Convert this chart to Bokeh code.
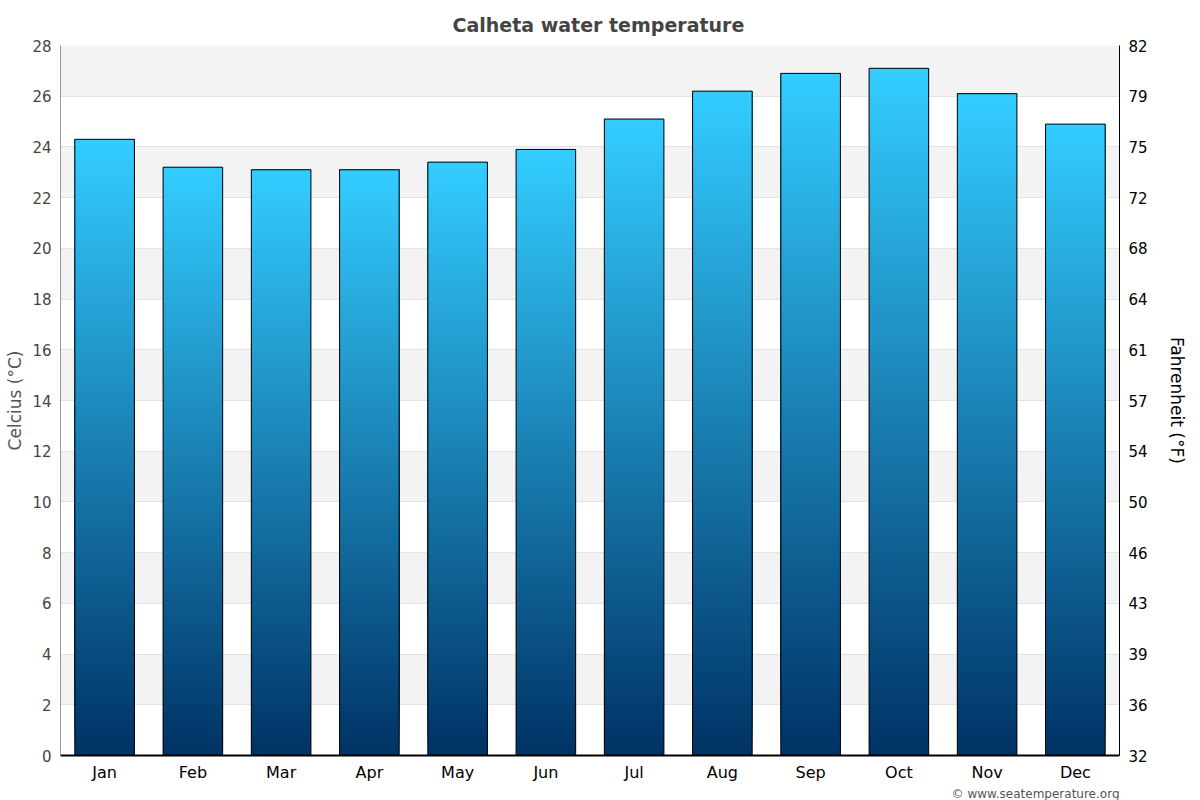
from bokeh.plotting import figure
from bokeh.models import (FactorRange, Range1d, LinearAxis, FixedTicker, Title, ColumnDataSource)
from bokeh.embed import file_html
from bokeh.resources import INLINE

# ---- data ----
months = ["Jan", "Feb", "Mar", "Apr", "May", "Jun", "Jul", "Aug", "Sep", "Oct", "Nov", "Dec"]
temps_c = [24.3, 23.2, 23.1, 23.1, 23.4, 23.9, 25.1, 26.2, 26.9, 27.1, 26.1, 24.9]
c_ticks = [0, 2, 4, 6, 8, 10, 12, 14, 16, 18, 20, 22, 24, 26, 28]
f_labels = ["32", "36", "39", "43", "46", "50", "54", "57", "61", "64", "68", "72", "75", "79", "82"]

title_text = "Calheta water temperature"
credit_text = "\u00a9 www.seatemperature.org"

FONT = "DejaVu Sans"
TOP_COLOR = (0x33, 0xCC, 0xFF)
BOT_COLOR = (0x00, 0x33, 0x66)
N_SLICES = 90
BAR_W = 0.675

p = figure(x_range=FactorRange(*months), y_range=Range1d(0, 28),
           width=1200, height=800, output_backend="svg", toolbar_location=None,
           min_border_left=60, min_border_right=81, min_border_top=45, min_border_bottom=45)
p.background_fill_color = "white"
p.border_fill_color = "white"
p.outline_line_color = None

# title
p.title.text = title_text
p.title.align = "left"
p.title.offset = 392
p.title.text_font = FONT
p.title.text_font_size = "19px"
p.title.text_font_style = "bold"
p.title.text_color = "#444444"
p.title.standoff = 20

# grid: alternating bands
p.xgrid.grid_line_color = None
p.ygrid.ticker = FixedTicker(ticks=c_ticks)
p.ygrid.grid_line_color = "#e3e3e3"
p.ygrid.band_fill_color = "#f3f3f3"
p.ygrid.band_fill_alpha = 1.0

# gradient bars (stacked slices, each from its fraction up to the bar top)
xs, bots, tops, cols = [], [], [], []
for m, v in zip(months, temps_c):
    for i in range(N_SLICES):
        t = i / (N_SLICES - 1)
        r = round(BOT_COLOR[0] + (TOP_COLOR[0] - BOT_COLOR[0]) * t)
        g = round(BOT_COLOR[1] + (TOP_COLOR[1] - BOT_COLOR[1]) * t)
        b = round(BOT_COLOR[2] + (TOP_COLOR[2] - BOT_COLOR[2]) * t)
        xs.append(m)
        bots.append(v * i / N_SLICES)
        tops.append(v)
        cols.append("#%02x%02x%02x" % (r, g, b))
src = ColumnDataSource(dict(x=xs, bottom=bots, top=tops, color=cols))
p.vbar(x="x", bottom="bottom", top="top", width=BAR_W, source=src,
       fill_color="color", line_color=None)
p.vbar(x=months, top=temps_c, bottom=0, width=BAR_W, fill_alpha=0,
       line_color="black", line_width=1)

def style_y(ax, label, label_color, tick_color, title_standoff, line_color):
    ax.ticker = FixedTicker(ticks=c_ticks)
    ax.axis_label = label
    ax.axis_label_text_font = FONT
    ax.axis_label_text_font_style = "normal"
    ax.axis_label_text_font_size = "17px"
    ax.axis_label_text_color = label_color
    ax.axis_label_standoff = title_standoff
    ax.major_label_text_font = FONT
    ax.major_label_text_font_size = "15px"
    ax.major_label_text_color = tick_color
    ax.major_label_standoff = 9
    ax.major_tick_line_color = None
    ax.minor_tick_line_color = None
    ax.major_tick_out = 0
    ax.major_tick_in = 0
    ax.minor_tick_out = 0
    ax.minor_tick_in = 0
    ax.axis_line_color = line_color

# left axis
style_y(p.yaxis[0], "Celcius (\u00b0C)", "#555555", "#444444", 4, "#999999")

# right axis (Fahrenheit labels at the same positions)
yr = LinearAxis(major_label_overrides={t: f for t, f in zip(c_ticks, f_labels)})
style_y(yr, "Fahrenheit (\u00b0F)", "#000000", "#000000", 16, "#000000")
p.add_layout(yr, "right")

# x axis
xa = p.xaxis[0]
xa.major_label_text_font = FONT
xa.major_label_text_font_size = "16px"
xa.major_label_text_color = "#000000"
xa.major_label_standoff = 7
xa.major_tick_line_color = None
xa.minor_tick_line_color = None
xa.major_tick_out = 0
xa.major_tick_in = 0
xa.axis_line_color = "black"
xa.axis_line_width = 2

# credits
credits = Title(text=credit_text, align="right", text_font=FONT, text_font_size="12px",
                text_font_style="normal", text_color="#555555", standoff=0, offset=0)
p.add_layout(credits, "below")

open("out.html", "w").write(file_html(p, INLINE))
